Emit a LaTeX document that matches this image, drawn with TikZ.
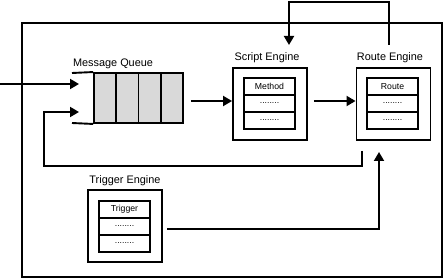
\documentclass[tikz,border=0pt]{standalone}
\usepackage{fontspec}
\setmainfont{Liberation Sans}
\usetikzlibrary{arrows.meta}
\begin{document}
\begin{tikzpicture}[x=1pt,y=-1pt,
  line width=1.9pt,
  frame/.style={draw, minimum width=74pt, minimum height=72pt, inner sep=0pt},
  cell/.style={draw, minimum width=51pt, minimum height=17pt, inner sep=0pt,
    font=\fontsize{8.7}{10}\selectfont},
  qcell/.style={draw, fill=black!15, minimum width=22.25pt, minimum height=50pt, inner sep=0pt},
  title/.style={font=\fontsize{10.9}{13}\selectfont, inner sep=0pt},
  arr/.style={-{Triangle[length=9pt,width=10pt]}}]
\useasboundingbox (0,0) rectangle (446,280);

% system boundary
\node[draw, minimum width=420pt, minimum height=254pt, inner sep=0pt] (sys) at (232,150) {};

% message queue
\node[title] (qlabel) at (113,64) {Message Queue};
\node[qcell] (q1) at (105.125,98) {};
\node[qcell] (q2) at (127.375,98) {};
\node[qcell] (q3) at (149.625,98) {};
\node[qcell] (q4) at (171.875,98) {};
\coordinate (qtop) at (72,73);
\coordinate (qbot) at (72,123);
\draw (qtop) -- (q1.north west);
\draw (qbot) -- (q1.south west);

% script engine
\node[title] (slabel) at (267,58) {Script Engine};
\node[frame] (se) at (270,104) {};
\node[cell] (s1) at (269.5,86.5) {Method};
\node[cell] (s2) at (269.5,103.5) {........};
\node[cell] (s3) at (269.5,120.5) {........};

% route engine
\node[title] (rlabel) at (390,58) {Route Engine};
\node[frame] (re) at (393.5,104) {};
\node[cell] (r1) at (392.5,86.5) {Route};
\node[cell] (r2) at (392.5,103.5) {........};
\node[cell] (r3) at (392.5,120.5) {........};

% trigger engine
\node[title] (tlabel) at (125,181) {Trigger Engine};
\node[frame] (te) at (125,226) {};
\node[cell] (t1) at (124.5,209.5) {Trigger};
\node[cell] (t2) at (124.5,226.5) {........};
\node[cell] (t3) at (124.5,243.5) {........};

% connectors
\coordinate (in) at (0,84);
\coordinate (qin1) at (79,84);
\coordinate (qin2) at (79,112);
\draw[arr] (in) -- (qin1);

\draw[arr, shorten <=7pt] ([yshift=3pt]se.west -| q4.east) -- ([yshift=3pt]se.west);
\draw[arr, shorten <=6pt] ([yshift=3pt]se.east) -- ([yshift=3pt]re.west);

% route engine back to script engine over the top
\coordinate (rtop) at (389,45);
\coordinate (stop) at (289,45);
\draw[arr] (rtop) -- (389,2) -- (289,2) -- (stop);

% route engine back into the queue
\coordinate (rbot) at (362,151);
\draw[arr] (rbot) -- (362,166) -- (44,166) -- (44,112) -- (qin2);

% trigger engine into route engine
\coordinate (tout) at (167,229);
\coordinate (rin) at (379,152);
\draw[arr] (tout) -- (379,229) -- (rin);
\end{tikzpicture}
\end{document}
